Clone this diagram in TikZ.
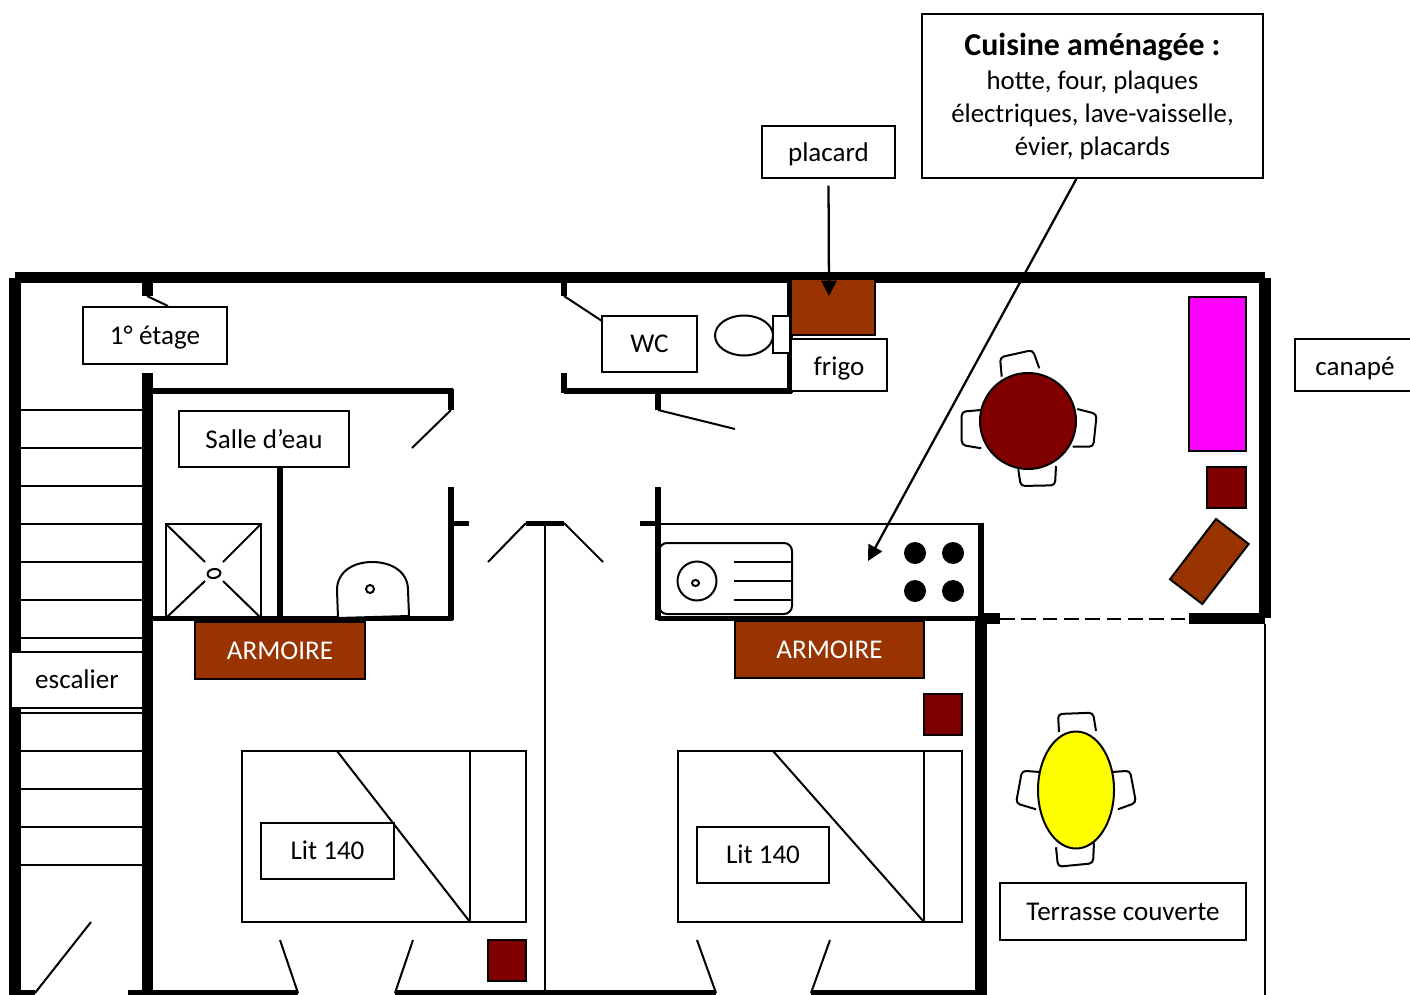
\documentclass[tikz,border=0pt]{standalone}
\usepackage{fontspec}
\setmainfont{Carlito}
\usetikzlibrary{arrows.meta,shapes.geometric}
\definecolor{armoirebrown}{RGB}{153,51,0}
\definecolor{darkmaroon}{RGB}{128,0,0}
\definecolor{canapepink}{RGB}{255,0,255}
\definecolor{tableyellow}{RGB}{255,255,0}
\newcommand{\px}{0.75pt}
\tikzset{
  wallbig/.style={line width=8.6pt},
  wallmid/.style={line width=4.1pt},
  thinline/.style={line width=1.5pt},
  meuble/.style={draw=black, line width=1.5pt},
  chair/.style={line width=1.5pt, rounded corners=3pt},
  tagbox/.style={draw=black, fill=white, line width=1.4pt, inner sep=0pt, font=\fontsize{20.3}{24}\selectfont,
    text height=16.6pt, text depth=3.25pt},
  armoirebox/.style={tagbox, fill=armoirebrown, text=white},
  longarrow/.style={line width=1.7pt, -{Triangle[length=11.5pt,width=11.5pt]}}
}
\begin{document}
\begin{tikzpicture}[x=\px, y=-\px]
  \useasboundingbox (0,0) rectangle (1410,995);
  \clip (0,0) rectangle (1410,995);

  % stairs
  \foreach \y in {410,448,486,524,562,600,638,713,751,789,827,865} {
    \draw[thinline] (21,\y) -- (142,\y);
  }

  % big walls
  \draw[wallbig] (15,277.5) -- (1265,277.5);
  \draw[wallbig] (15,278) -- (15,995);
  \draw[wallbig] (1265,278) -- (1265,618);
  \draw[wallbig] (147.5,280) -- (147.5,296);
  \draw[wallbig] (147.5,373) -- (147.5,995);
  \draw[wallbig] (981,618) -- (981,995);
  \draw[wallbig] (981,618.5) -- (1000,618.5);
  \draw[wallbig] (1189,618.5) -- (1265,618.5);

  % inner walls
  \draw[wallmid] (153,391) -- (453,391);
  \draw[wallmid] (451,389) -- (451,410);
  \draw[wallmid] (451,487) -- (451,620);
  \draw[wallmid] (451,523.5) -- (469,523.5);
  \draw[wallmid] (153,618.5) -- (453,618.5);
  \draw[wallmid] (280,468) -- (280,618);
  \draw[wallmid] (564,280) -- (564,296);
  \draw[wallmid] (564,373) -- (564,393);
  \draw[wallmid] (564,391) -- (792,391);
  \draw[wallmid] (790,280) -- (790,393);
  \draw[wallmid] (658,391) -- (658,410);
  \draw[wallmid] (658,487) -- (658,620);
  \draw[wallmid] (640,523.5) -- (658,523.5);
  \draw[wallmid] (658,618.5) -- (1000,618.5);
  \draw[wallmid] (981,523) -- (981,618);
  \draw[wallmid] (526,523.5) -- (564,523.5);
  \draw[wallmid] (15,993) -- (35,993);
  \draw[wallmid] (128,993) -- (298,993);
  \draw[wallmid] (395,993) -- (716,993);
  \draw[wallmid] (811,993) -- (981,993);

  % thin lines and doors
  \draw[thinline] (658,523.5) -- (981,523.5);
  \draw[thinline] (545,523) -- (545,993);
  \draw[thinline] (1265,624) -- (1265,995);
  \draw[thinline, dash pattern=on 11pt off 5pt] (1000,618.5) -- (1189,618.5);
  \foreach \xa/\ya/\xb/\yb in {147/296/168/306, 451/410/412/448, 564/296/602/321, 658/410/735/429,
    526/523/488/562, 564/523/603/562, 35/993/91/922, 298/993/280/940, 395/993/413/940, 716/993/697/940, 811/993/830/940} {
    \draw[thinline] (\xa,\ya) -- (\xb,\yb);
  }

  % shower
  \draw[meuble] (166,524) rectangle (261,618);
  \foreach \xa/\ya/\xb/\yb in {166/524/205/562, 261/524/223/562, 166/618/205/581, 261/618/223/581} {
    \draw[thinline] (\xa,\ya) -- (\xb,\yb);
  }
  \draw[thinline, rotate around={10:(214,573.5)}] (214,573.5) ellipse [x radius=6.5, y radius=4.5];

  % washbasin
  \draw[meuble, fill=white] (338,618) -- (337,590) .. controls (337,572) and (353,562) .. (372,562)
    .. controls (392,562) and (408,572) .. (408,590) -- (409,616) -- cycle;
  \draw[thinline] (370,589) circle [radius=4];

  % toilet
  \draw[meuble, fill=white] (773,316) rectangle (790,353);
  \draw[meuble, fill=white] (744,335.5) ellipse [x radius=29, y radius=20];

  % sink and hob
  \draw[meuble, rounded corners=6pt] (659,543) rectangle (792,614);
  \draw[thinline] (697,581) circle [radius=19.5];
  \draw[thinline] (695.5,583) ellipse [x radius=3.5, y radius=3];
  \foreach \y in {562,581,600} {
    \draw[thinline] (734,\y) -- (791,\y);
  }
  \foreach \x/\y in {915/553,953/553,915/591,953/591} {
    \fill (\x,\y) circle [radius=11];
  }

  % dining table
  \draw[chair] (1001.7,376.7) -- (1000,357.3) -- (1032.7,350) -- (1039.3,368.3);
  \draw[chair] (1077.3,409) -- (1096.7,414) -- (1093.3,446.7) -- (1072.7,446.7);
  \draw[chair] (981.3,410) -- (961.7,411.7) -- (961.7,445) -- (981.3,448.3);
  \draw[chair] (1018.3,469.3) -- (1020.7,486) -- (1055,485.3) -- (1056,466);
  \draw[meuble, fill=darkmaroon] (1028,421) circle [radius=48];

  % living room furniture
  \draw[meuble, fill=canapepink] (1189,297) rectangle (1246,451);
  \draw[meuble, fill=darkmaroon] (1207,467) rectangle (1246,508);
  \draw[meuble, fill=armoirebrown] (1216,519) -- (1248.7,544) -- (1202.3,604) -- (1170,579.3) -- cycle;
  \draw[meuble, fill=armoirebrown] (791,279) rectangle (875,335);
  \draw[meuble, fill=darkmaroon] (488,940) rectangle (526,981);
  \draw[meuble, fill=darkmaroon] (924,694) rectangle (962,735);

  % beds
  \draw[meuble] (242,751) rectangle (526,922);
  \draw[thinline] (470,751) -- (470,922);
  \draw[thinline] (337,751) -- (470,922);
  \draw[meuble] (678,751) rectangle (962,922);
  \draw[thinline] (924,751) -- (924,922);
  \draw[thinline] (773,751) -- (924,922);

  % terrace table
  \draw[chair] (1059,732) -- (1058,714) -- (1093,712.7) -- (1096,731);
  \draw[chair] (1040,772) -- (1022,770.7) -- (1016,803.3) -- (1036,809.3);
  \draw[chair] (1112,772) -- (1130,770.7) -- (1136,802.7) -- (1118,809.3);
  \draw[chair] (1056,847.3) -- (1058,866.7) -- (1093,863.3) -- (1094,842.7);
  \draw[meuble, fill=tableyellow] (1076,790) ellipse [x radius=38, y radius=58.5];

  % labels
  \node[tagbox, text height=18.1pt, minimum width=133*\px, minimum height=52*\px] (placard) at (828.5,152) {placard};
  \node[tagbox, text height=19.6pt, minimum width=120*\px, minimum height=52*\px] (canape) at (1355,365) {canapé};
  \node[tagbox, minimum width=144*\px, minimum height=57*\px] (etage) at (155,335.5) {1° étage};
  \node[tagbox, minimum width=95*\px, minimum height=56*\px] (wc) at (649.5,344) {WC};
  \node[tagbox, text height=19.6pt, minimum width=96*\px, minimum height=52*\px] (frigo) at (839,365) {frigo};
  \node[tagbox, text height=18.1pt, minimum width=170*\px, minimum height=56*\px] (salle) at (264,439) {Salle d’eau};
  \node[tagbox, minimum width=132*\px, minimum height=56*\px] (escalier) at (77,680) {escalier};
  \node[armoirebox, minimum width=170*\px, minimum height=57*\px] (armoirea) at (280,650.5) {ARMOIRE};
  \node[armoirebox, minimum width=189*\px, minimum height=57*\px] (armoireb) at (829.5,649.5) {ARMOIRE};
  \node[tagbox, minimum width=133*\px, minimum height=56*\px] (lita) at (327.5,851) {Lit 140};
  \node[tagbox, minimum width=132*\px, minimum height=56*\px] (litb) at (763,855) {Lit 140};
  \node[tagbox, minimum width=246*\px, minimum height=57*\px] (terrasse) at (1123,911.5) {Terrasse couverte};
  \node[draw=black, fill=white, line width=1.4pt, inner sep=0pt, minimum width=341*\px, minimum height=164*\px,
    align=center, font=\fontsize{20.1}{24.5}\selectfont] (cuisine) at (1092.5,96)
    {{\fontsize{23.9}{27}\selectfont\bfseries Cuisine aménagée :}\\[1.5pt]hotte, four, plaques\\électriques, lave-vaisselle,\\évier, placards};

  % arrows
  \coordinate (placardtip) at (829,296);
  \coordinate (cuisinetip) at (868,561);
  \draw[longarrow, shorten <=5pt] (placard.south) -- (placardtip);
  \draw[longarrow] (cuisine.-101) -- (cuisinetip);
\end{tikzpicture}
\end{document}
